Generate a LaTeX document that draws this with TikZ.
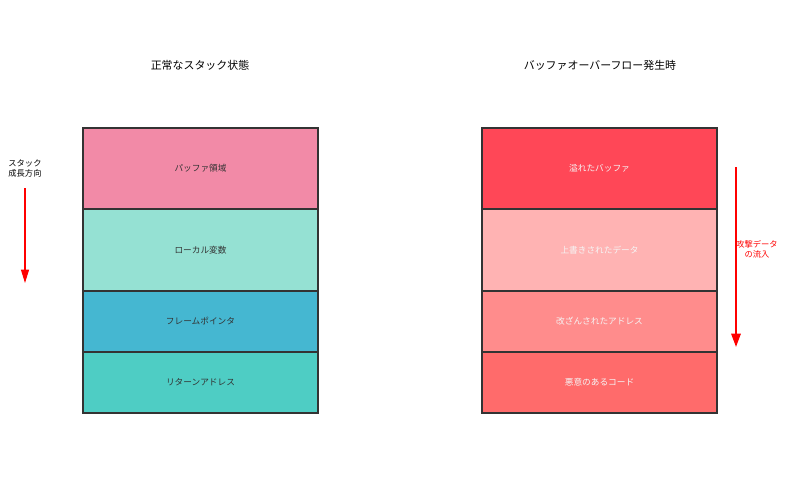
\documentclass[tikz,border=0pt]{standalone}
\usepackage{fontspec}
\setmainfont{Noto Sans CJK JP}
\usetikzlibrary{arrows.meta}
\definecolor{cpink}{HTML}{F28AA7}
\definecolor{cmint}{HTML}{95E1D3}
\definecolor{cblue}{HTML}{45B7D1}
\definecolor{cteal}{HTML}{4ECDC4}
\definecolor{rA}{HTML}{FF4757}
\definecolor{rB}{HTML}{FFB3B3}
\definecolor{rC}{HTML}{FF8C8C}
\definecolor{rD}{HTML}{FF6B6B}
\definecolor{dark}{HTML}{333333}
\begin{document}
\begin{tikzpicture}[x=0.75pt,y=-0.75pt,
  cell/.style={draw=dark,line width=1.2pt,inner sep=0pt,outer sep=0pt,anchor=north west,minimum width=235*0.75pt,font=\fontsize{6.5pt}{8pt}\selectfont},
  lcell/.style={cell,text=dark},
  rcell/.style={cell,text=white!92!gray},
  title/.style={font=\fontsize{8.2pt}{10pt}\selectfont,text=black},
  side/.style={font=\fontsize{6.2pt}{7.5pt}\selectfont,align=center}]
\useasboundingbox (0,0) rectangle (800,500);
\fill[white] (0,0) rectangle (800,500);
\node[title] (t1) at (200,65) {正常なスタック状態};
\node[title] (t2) at (600,65) {バッファオーバーフロー発生時};
% left stack
\node[lcell,fill=cpink,minimum height=81*0.75pt] (l1) at (83,128) {パッファ領域};
\node[lcell,fill=cmint,minimum height=82*0.75pt] (l2) at (83,209) {ローカル変数};
\node[lcell,fill=cblue,minimum height=61*0.75pt] (l3) at (83,291) {フレームポインタ};
\node[lcell,fill=cteal,minimum height=61*0.75pt] (l4) at (83,352) {リターンアドレス};
% right stack
\node[rcell,fill=rA,minimum height=81*0.75pt] (r1) at (482,128) {溢れたバッファ};
\node[rcell,fill=rB,minimum height=82*0.75pt] (r2) at (482,209) {上書きされたデータ};
\node[rcell,fill=rC,minimum height=61*0.75pt] (r3) at (482,291) {改ざんされたアドレス};
\node[rcell,fill=rD,minimum height=61*0.75pt] (r4) at (482,352) {悪意のあるコード};
% left arrow
\node[side,text=black] (gl) at (25,168) {スタック\\成長方向};
\coordinate (ga) at (25,188);
\coordinate (gb) at (25,283);
\draw[red,line width=0.8pt,-{Triangle[length=10pt,width=6pt]}] (ga) -- (gb);
% right arrow
\node[side,text=red] (al) at (757,249) {攻撃データ\\の流入};
\coordinate (aa) at (736,167);
\coordinate (ab) at (736,347);
\draw[red,line width=1.5pt,-{Triangle[length=10pt,width=7pt]}] (aa) -- (ab);
\end{tikzpicture}
\end{document}
